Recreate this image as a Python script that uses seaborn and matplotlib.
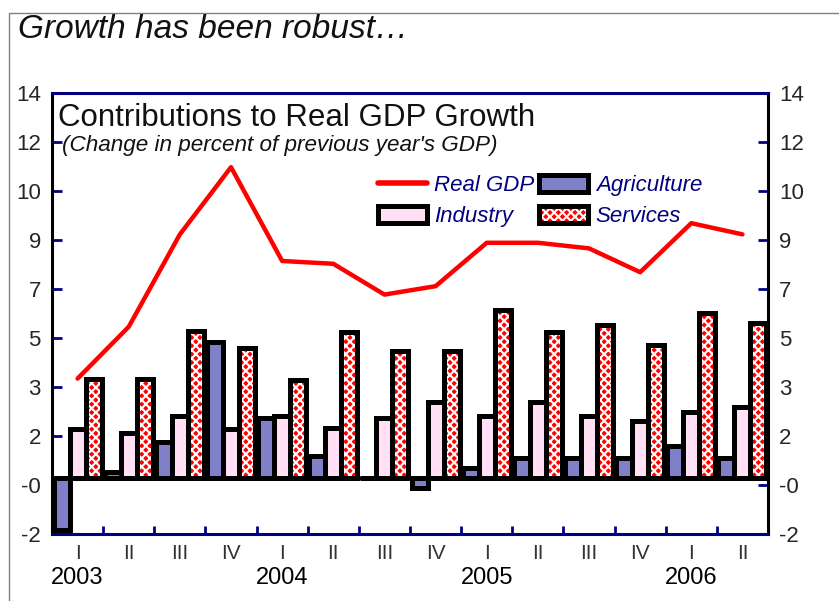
import numpy as np
import pandas as pd
import matplotlib
matplotlib.use("Agg")
import matplotlib.pyplot as plt
from matplotlib.lines import Line2D
from matplotlib.patches import Patch, Rectangle
from matplotlib.legend_handler import HandlerTuple
import seaborn as sns

# ---- data ----
quarters = ["I", "II", "III", "IV", "I", "II", "III", "IV", "I", "II", "III", "IV", "I", "II"]
years = ["2003", "2003", "2003", "2003", "2004", "2004", "2004", "2004",
         "2005", "2005", "2005", "2005", "2006", "2006"]
agriculture = [-1.85, 0.2, 1.3, 4.85, 2.15, 0.8, 0.0, -0.35, 0.35, 0.7, 0.7, 0.7, 1.15, 0.7]
industry = [1.75, 1.6, 2.2, 1.75, 2.2, 1.8, 2.15, 2.7, 2.2, 2.7, 2.2, 2.05, 2.35, 2.55]
services = [3.55, 3.55, 5.25, 4.65, 3.5, 5.2, 4.55, 4.55, 6.0, 5.2, 5.45, 4.75, 5.9, 5.55]
real_gdp = [3.55, 5.4, 8.7, 11.1, 7.75, 7.65, 6.55, 6.85, 8.4, 8.4, 8.2, 7.35, 9.1, 8.7]
ytick_values = [-2.0, -0.25, 1.5, 3.25, 5.0, 6.75, 8.5, 10.25, 12.0, 13.75]
ytick_labels = ["-2", "-0", "2", "3", "5", "7", "9", "10", "12", "14"]
series_names = ["Agriculture", "Industry", "Services"]

NAVY = "#000080"
colors = {"Agriculture": "#8080C8", "Industry": "#FFE0F5", "Services": "#FF0000"}
HATCH = "xxxx"

sns.set_style("white")
plt.rcParams["font.family"] = ["Liberation Sans", "DejaVu Sans"]
plt.rcParams["hatch.linewidth"] = 1.5

periods = [f"{y} {q}" for y, q in zip(years, quarters)]
df = pd.DataFrame({
    "period": periods * 3,
    "series": sum([[s] * len(periods) for s in series_names], []),
    "value": agriculture + industry + services,
})

fig = plt.figure(figsize=(8.39, 6.01), dpi=100)
ax = fig.add_axes([0.062, 0.1115, 0.8534, 0.7338])

sns.barplot(data=df, x="period", y="value", hue="series", hue_order=series_names,
            order=periods, palette=colors, saturation=1, width=0.94,
            edgecolor="black", linewidth=3.6, legend=False, ax=ax, zorder=2)

# services hatch (white pattern on red), with black outline on top
serv_container = ax.containers[2]
for bar in serv_container:
    bar.set_edgecolor("white")
    bar.set_linewidth(0)
    bar.set_hatch(HATCH)
    ax.add_patch(Rectangle(bar.get_xy(), bar.get_width(), bar.get_height(),
                           fill=False, edgecolor="black", linewidth=3.6, zorder=3))

ax.axhline(0, color="black", lw=2.5, zorder=3)

x = np.arange(len(periods))
sns.lineplot(x=x, y=real_gdp, color="#FF0000", lw=3.2, ax=ax, zorder=5)

ax.set_xlim(-0.5, len(periods) - 0.5)
ax.set_ylim(-2, 13.75)
ax.set_yticks(ytick_values)
ax.set_yticklabels(ytick_labels)
ax.tick_params(axis="y", which="major", direction="in", length=7, width=2, color=NAVY,
               labelsize=16, pad=8, left=True, right=True, labelleft=True, labelright=True)

ax.set_xticks(x)
ax.set_xticklabels(quarters, color="#333333", fontsize=15)
ax.tick_params(axis="x", which="major", length=0, pad=7)
ax.set_xticks(np.arange(len(periods) + 1) - 0.5, minor=True)
ax.tick_params(axis="x", which="minor", direction="in", length=6, width=2, color=NAVY, bottom=True)
ax.set_xlabel("")
ax.set_ylabel("")

for i, (q, y) in enumerate(zip(quarters, years)):
    if q == "I":
        ax.text(i, -0.1, y, transform=ax.get_xaxis_transform(), ha="center", va="center",
                fontsize=17, color="black")

for side in ["left", "right"]:
    ax.spines[side].set_color("black")
    ax.spines[side].set_linewidth(2.2)
for side in ["top", "bottom"]:
    ax.spines[side].set_color(NAVY)
    ax.spines[side].set_linewidth(2.2)

ax.text(0.008, 0.925, "Contributions to Real GDP Growth", transform=ax.transAxes,
        fontsize=22.5, ha="left", va="baseline", color="#111111")
ax.text(0.014, 0.868, "(Change in percent of previous year's GDP)", transform=ax.transAxes,
        fontsize=16.2, style="italic", ha="left", va="baseline", color="#111111")

# legend
h_gdp = Line2D([], [], color="#FF0000", lw=4)
h_ind = Patch(facecolor=colors["Industry"], edgecolor="black", linewidth=3.6)
h_agr = Patch(facecolor=colors["Agriculture"], edgecolor="black", linewidth=3.6)
h_srv = (Patch(facecolor=colors["Services"], edgecolor="white", linewidth=0, hatch=HATCH),
         Patch(fill=False, edgecolor="black", linewidth=3.6))
ax.legend([h_gdp, h_ind, h_agr, h_srv], ["Real GDP", "Industry", "Agriculture", "Services"],
          ncol=2, loc="upper left", bbox_to_anchor=(0.455, 0.815), frameon=False,
          borderpad=0, borderaxespad=0, handlelength=2.2, handleheight=0.8,
          handletextpad=0.35, columnspacing=0.2, labelspacing=0.45,
          prop={"style": "italic", "size": 16}, labelcolor=NAVY,
          handler_map={tuple: HandlerTuple(ndivide=1, pad=0)})

fig.text(18 / 839, 1 - 38 / 601, "Growth has been robust…", fontsize=24, style="italic",
         ha="left", va="baseline", color="#111111")
fig.add_artist(Line2D([9 / 839, 9 / 839], [0, 1 - 13 / 601], transform=fig.transFigure,
                      color="#808080", lw=1))
fig.add_artist(Line2D([9 / 839, 1], [1 - 13 / 601, 1 - 13 / 601], transform=fig.transFigure,
                      color="#808080", lw=1))

fig.savefig("out.png", dpi=100, facecolor="white")
